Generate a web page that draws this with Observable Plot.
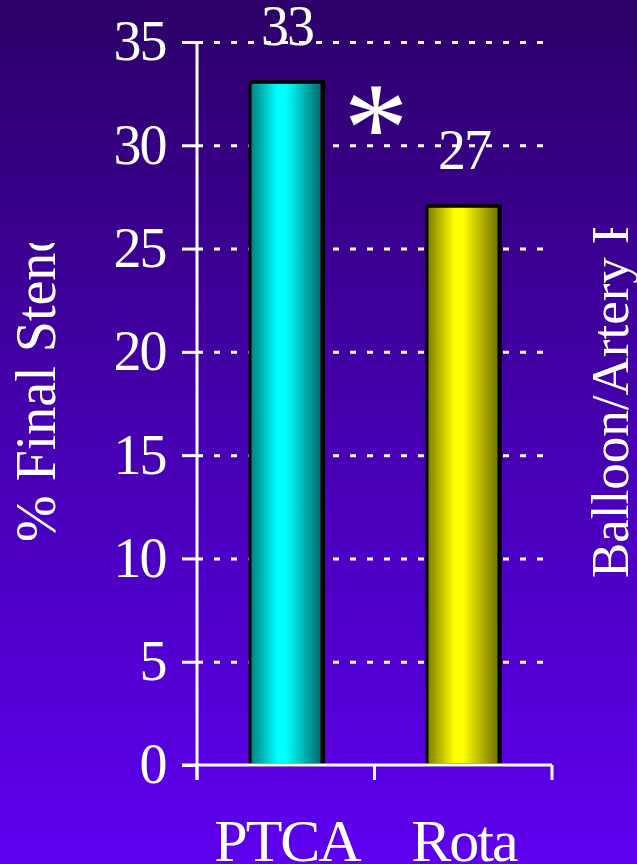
<!DOCTYPE html>
<html>
<head>
<meta charset="utf-8">
<script src="https://cdn.jsdelivr.net/npm/d3@7"></script>
<script src="https://cdn.jsdelivr.net/npm/@observablehq/plot@0.6"></script>
<style>
  html, body { margin: 0; padding: 0; background: #5e00f0; }
  #chart { width: 637px; height: 864px; }
</style>
</head>
<body>
<div id="chart"></div>
<script>
// Final stenosis after PTCA vs rotational atherectomy
const categories = ["PTCA", "Rota"];
const stenosis = [33, 27];
const yTicks = [0, 5, 10, 15, 20, 25, 30, 35];
const gridTicks = [5, 10, 15, 20, 25, 30, 35];
const yTitle = "% Final Stenosis";
const y2Title = "Balloon/Artery Ratio";
const marker = "*";

const data = categories.map((c, i) => ({category: c, value: stenosis[i]}));
const gradientFor = {PTCA: "url(#barCyan)", Rota: "url(#barYellow)"};

const W = 637, H = 864;
const serif = "'Liberation Serif', 'Times New Roman', serif";

const plot = Plot.plot({
  width: W,
  height: H,
  marginLeft: 197,
  marginRight: 85,
  marginTop: 42,
  marginBottom: 99,
  style: {
    background: "linear-gradient(to bottom, #2c0068 0%, #4600b0 50%, #5e00f0 100%)",
    color: "white",
    fontFamily: serif,
    letterSpacing: "-2px",
    overflow: "visible"
  },
  x: {domain: categories, padding: 0, label: null},
  y: {domain: [0, 35], label: null},
  color: {type: "identity"},
  marks: [
    Plot.ruleY(gridTicks, {stroke: "white", strokeWidth: 3, strokeDasharray: "6,11"}),
    // drop shadow behind each bar
    Plot.barY(data, {x: "category", y: "value", fill: "#000", insetLeft: 52, insetRight: 50, insetTop: -3}),
    Plot.barY(data, {
      x: "category", y: "value",
      fill: d => gradientFor[d.category],
      stroke: "#000", strokeWidth: 3,
      insetLeft: 52, insetRight: 53, insetTop: -1
    }),
    Plot.text(data, {
      x: "category", y: "value", text: d => String(d.value),
      lineAnchor: "bottom", dy: -39, fontSize: 56, fill: "white"
    }),
    Plot.text([marker], {frameAnchor: "top", text: d => d, dy: 36, fontSize: 130, fill: "white"}),
    Plot.axisY({
      ticks: yTicks, tickSize: 15, tickPadding: 17, strokeWidth: 3,
      fontSize: 56, tickFormat: d => String(d)
    }),
    Plot.axisX({tickSize: 0, tickPadding: 53, fontSize: 60})
  ]
});

document.getElementById("chart").appendChild(plot);

const svg = d3.select(plot);

// bar gradients: dark edges, bright band left of centre
const defs = svg.insert("defs", ":first-child");
function addGradient(id, edgeL, bright, edgeR) {
  const g = defs.append("linearGradient").attr("id", id)
    .attr("x1", "0%").attr("x2", "100%").attr("y1", "0%").attr("y2", "0%");
  g.append("stop").attr("offset", "0%").attr("stop-color", edgeL);
  g.append("stop").attr("offset", "38%").attr("stop-color", bright);
  g.append("stop").attr("offset", "50%").attr("stop-color", bright);
  g.append("stop").attr("offset", "100%").attr("stop-color", edgeR);
}
addGradient("barCyan", "#007c7c", "#00ffff", "#006868");
addGradient("barYellow", "#7c7c00", "#ffff00", "#6c6c00");

// axis lines and category boundary ticks
const xs = plot.scale("x");
const ys = plot.scale("y");
const [x0, x1] = xs.range;
const yBase = ys.apply(0);
const yTop = ys.apply(35);
const step = (x1 - x0) / categories.length;
const axes = svg.append("g").attr("stroke", "white").attr("stroke-width", 3).attr("fill", "none");
axes.append("line").attr("x1", x0).attr("x2", x0).attr("y1", yTop).attr("y2", yBase + 15);
axes.append("line").attr("x1", x0 - 15).attr("x2", x1).attr("y1", yBase).attr("y2", yBase);
d3.range(categories.length + 1).forEach(i => {
  const x = x0 + i * step;
  axes.append("line").attr("x1", x).attr("x2", x).attr("y1", yBase).attr("y2", yBase + 15);
});

// rotated axis titles, cut off by their text boxes
function addTitle(id, text, size, bx, by, clipTop, clipLeft, clipRight) {
  defs.append("clipPath").attr("id", id)
    .append("rect").attr("x", clipLeft).attr("y", clipTop)
    .attr("width", clipRight - clipLeft).attr("height", H - clipTop);
  svg.append("g").attr("clip-path", `url(#${id})`)
    .append("text")
    .attr("transform", `translate(${bx},${by}) rotate(-90)`)
    .attr("text-anchor", "start")
    .attr("fill", "white")
    .attr("font-family", serif)
    .attr("font-size", size)
    .attr("letter-spacing", "0px")
    .text(text);
}
addTitle("clipLeft", yTitle, 56, 55, 542, 243, 0, 90);
addTitle("clipRight", y2Title, 53, 628, 578, 228, 570, W);
</script>
</body>
</html>
